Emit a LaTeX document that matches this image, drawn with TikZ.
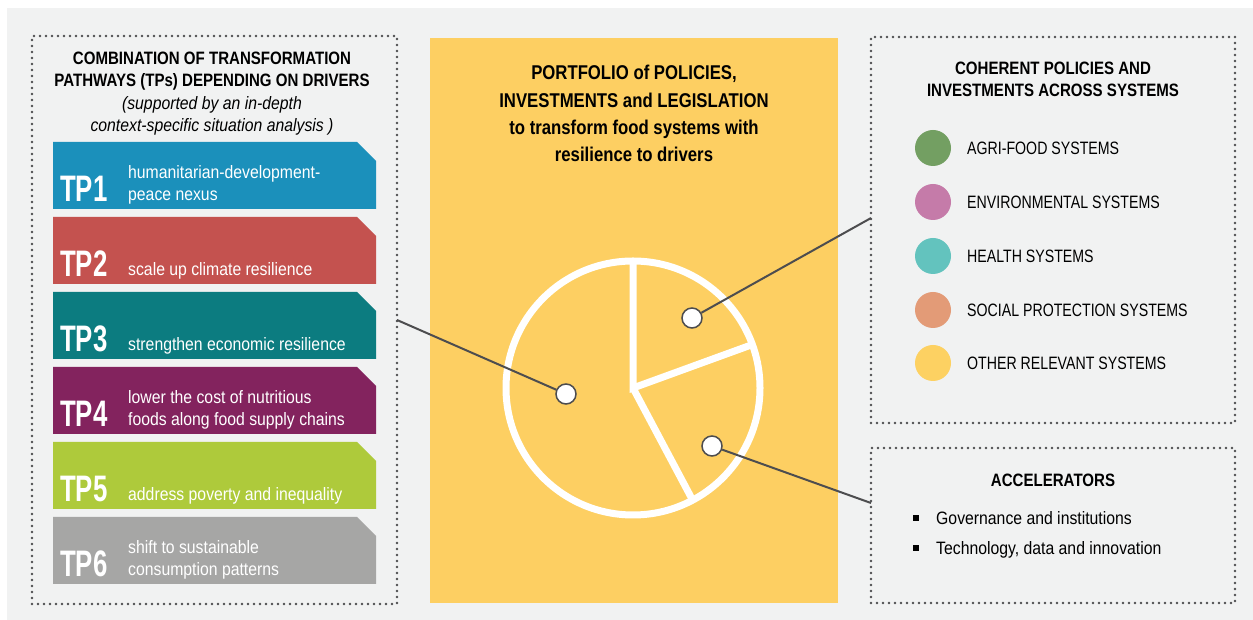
\documentclass[tikz,border=0pt]{standalone}
\usepackage{fontspec}
\setmainfont{Liberation Sans}[FakeStretch=0.88]
\newfontfamily\headfamily{Liberation Sans}[FakeStretch=0.84]
\newfontfamily\capsfamily{Liberation Sans}[FakeStretch=0.79]
\newfontfamily\tpfont{Liberation Sans}[FakeStretch=0.7]
\usetikzlibrary{calc, positioning}

\definecolor{bggray}{HTML}{F1F2F2}
\definecolor{dotgray}{HTML}{4D4D4F}
\definecolor{linegray}{HTML}{4D4D4F}
\definecolor{panelyellow}{HTML}{FDCF62}
\definecolor{tpblue}{HTML}{1B90BB}
\definecolor{tpred}{HTML}{C4524F}
\definecolor{tpteal}{HTML}{0C7C80}
\definecolor{tpplum}{HTML}{83235E}
\definecolor{tplime}{HTML}{AECA3B}
\definecolor{tpgray}{HTML}{A6A6A5}
\definecolor{agri}{HTML}{739F62}
\definecolor{env}{HTML}{C57BA9}
\definecolor{health}{HTML}{63C3BE}
\definecolor{social}{HTML}{E39B77}
\definecolor{other}{HTML}{FDD162}

\begin{document}
\begin{tikzpicture}[x=1bp, y=1bp,
  dotbox/.style={draw=dotgray, line width=2.6bp, line cap=round, dash pattern=on 0bp off 6bp, inner sep=0, outer sep=0},
  headfont/.style={font=\headfamily\fontsize{18}{22}\selectfont\bfseries},
  bodyfont/.style={font=\fontsize{18}{22}\selectfont},
  notefont/.style={font=\fontsize{18}{22}\selectfont\itshape},
  capsfont/.style={font=\capsfamily\fontsize{18}{22}\selectfont},
  tplabel/.style={text=white, font=\tpfont\fontsize{37}{37}\selectfont\bfseries, anchor=base west, inner sep=0},
  tpdesc/.style={text=white, bodyfont, anchor=south west, align=left, inner sep=0},
  legdot/.style={circle, minimum size=36bp, inner sep=0},
  pindot/.style={circle, fill=white, draw=linegray, line width=1.5bp, minimum size=20bp, inner sep=0},
  link/.style={draw=linegray, line width=2bp}]

\useasboundingbox (0,0) rectangle (1253,620);
\fill[bggray] (7,0) rectangle (1253,612);

% Transformation pathways
\node[dotbox, minimum width=365bp, minimum height=568bp] (pathways) at (214.5,300) {};
\node[headfont, align=center, anchor=north, inner sep=0] (pathways-title) at (212,568)
  {COMBINATION OF TRANSFORMATION\\PATHWAYS (TPs) DEPENDING ON DRIVERS};
\node[notefont, align=center, anchor=north, inner sep=0] (pathways-note) at (212,524)
  {(supported by an in-depth\\context-specific situation analysis )};

\foreach \i/\col/\desc in {1/tpblue/{humanitarian-development-\\peace nexus},
                           2/tpred/{scale up climate resilience},
                           3/tpteal/{strengthen economic resilience},
                           4/tpplum/{lower the cost of nutritious\\foods along food supply chains},
                           5/tplime/{address poverty and inequality},
                           6/tpgray/{shift to sustainable\\consumption patterns}} {
  \pgfmathsetmacro\yb{411-75*(\i-1)}
  \pgfmathsetmacro\yt{\yb+67}
  \fill[\col] (53,\yb) -- (53,\yt) -- (357,\yt) -- (376,\yt-19) -- (376,\yb) -- cycle;
  \node[tplabel] (tp\i) at (60,\yb+7) {TP\i};
  \node[tpdesc] (tp\i-text) at (128,\yb+5) {\desc};
}

% Portfolio panel
\fill[panelyellow] (430,17) rectangle (838,582);
\node[align=center, font=\headfamily\fontsize{20}{27.5}\selectfont\bfseries, anchor=north, inner sep=0] (portfolio) at (634,555)
  {PORTFOLIO of POLICIES,\\INVESTMENTS and LEGISLATION\\to transform food systems with\\resilience to drivers};

% Pie
\coordinate (pie) at (633,232);
\draw[white, line width=7bp] (pie) circle (127);
\draw[white, line width=7bp, line join=miter] ($(pie)+(90:127)$) -- (pie) -- ($(pie)+(20:127)$);
\draw[white, line width=7bp] (pie) -- ($(pie)+(-62:127)$);

% Coherent policies
\node[dotbox, minimum width=364bp, minimum height=386bp] (coherent) at (1053,390) {};
\node[headfont, align=center, anchor=north, inner sep=0] (coherent-title) at (1053,558)
  {COHERENT POLICIES AND\\INVESTMENTS ACROSS SYSTEMS};
\foreach \name/\col/\y in {AGRI-FOOD SYSTEMS/agri/472,
                           ENVIRONMENTAL SYSTEMS/env/418,
                           HEALTH SYSTEMS/health/364,
                           SOCIAL PROTECTION SYSTEMS/social/310,
                           OTHER RELEVANT SYSTEMS/other/257} {
  \node[legdot, fill=\col] (leg-\col) at (933,\y) {};
  \node[capsfont, anchor=west, inner sep=0] (leg-\col-text) at (967,\y) {\name};
}

% Accelerators
\node[dotbox, minimum width=364bp, minimum height=155bp] (accel) at (1053,94.5) {};
\node[headfont, inner sep=0] (accel-title) at (1053,140) {ACCELERATORS};
\node[bodyfont, anchor=base west, inner sep=0] (accel-gov) at (913,95)
  {\rule[0.22em]{6bp}{6bp}\hspace{17bp}Governance and institutions};
\node[bodyfont, anchor=base west, inner sep=0] (accel-tech) at (913,65)
  {\rule[0.22em]{6bp}{6bp}\hspace{17bp}Technology, data and innovation};

% Pointers
\coordinate (coherent-in) at ($(coherent.north west)!0.469!(coherent.south west)$);
\coordinate (accel-in) at ($(accel.north west)!0.355!(accel.south west)$);
\node[pindot] (dot-left) at (566,226) {};
\node[pindot] (dot-up) at (692,302) {};
\node[pindot] (dot-low) at (712,174) {};
\draw[link] (dot-left) -- (pathways.east);
\draw[link] (dot-up) -- (coherent-in);
\draw[link] (dot-low) -- (accel-in);

\end{tikzpicture}
\end{document}
